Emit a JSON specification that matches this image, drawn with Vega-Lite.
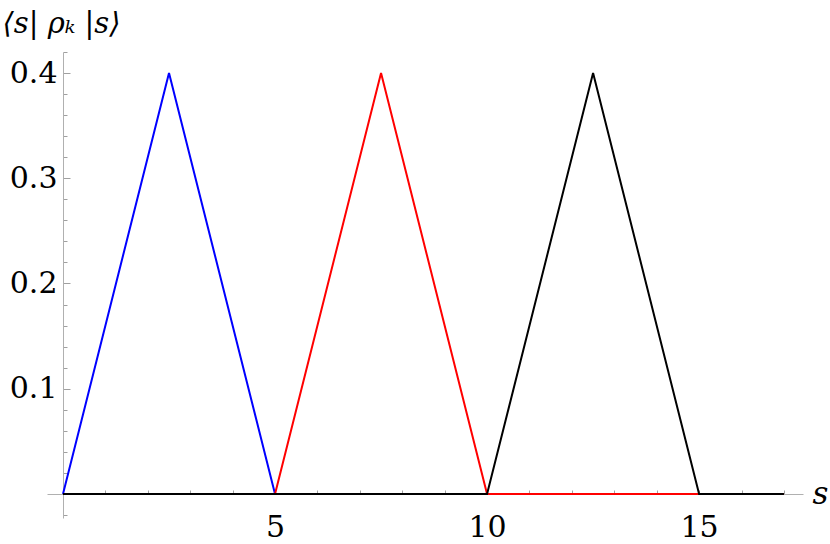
{
  "$schema": "https://vega.github.io/schema/vega-lite/v6.json",
  "width": 756,
  "height": 466,
  "autosize": {"type": "none"},
  "padding": {"left": 47, "top": 52, "right": 27, "bottom": 26},
  "background": "white",
  "config": {"view": {"stroke": null}, "font": "DejaVu Serif"},
  "data": {"values": [
    {"s": 0, "p": 0, "k": "1"}, {"s": 2.5, "p": 0.4, "k": "1"}, {"s": 5, "p": 0, "k": "1"}, {"s": 17, "p": 0, "k": "1"},
    {"s": 0, "p": 0, "k": "2"}, {"s": 5, "p": 0, "k": "2"}, {"s": 7.5, "p": 0.4, "k": "2"}, {"s": 10, "p": 0, "k": "2"}, {"s": 17, "p": 0, "k": "2"},
    {"s": 0, "p": 0, "k": "3"}, {"s": 10, "p": 0, "k": "3"}, {"s": 12.5, "p": 0.4, "k": "3"}, {"s": 15, "p": 0, "k": "3"}, {"s": 17, "p": 0, "k": "3"}
  ]},
  "mark": {"type": "line", "strokeWidth": 2, "clip": false},
  "encoding": {
    "x": {
      "field": "s", "type": "quantitative",
      "scale": {"domain": [-0.377, 17.45], "nice": false, "zero": false},
      "axis": {
        "orient": "bottom",
        "offset": -24,
        "values": [1,2,3,4,5,6,7,8,9,10,11,12,13,14,15,16,17],
        "labelExpr": "datum.value % 5 === 0 ? datum.label : ''",
        "grid": false,
        "domainColor": "#b0b0b0",
        "domainWidth": 1,
        "tickColor": "#a0a0a0",
        "tickWidth": 1,
        "tickSize": -4,
        "labelPadding": 22,
        "labelFont": "DejaVu Serif",
        "labelFontSize": 30,
        "labelColor": "black",
        "labelFlush": false,
        "labelOverlap": false,
        "title": "s",
        "titleFont": "DejaVu Serif",
        "titleFontStyle": "italic",
        "titleFontWeight": "normal",
        "titleFontSize": 31,
        "titleColor": "black",
        "titleAlign": "left",
        "titleBaseline": "middle",
        "titleAnchor": null,
        "titleX": 765,
        "titleY": 0
      }
    },
    "y": {
      "field": "p", "type": "quantitative",
      "scale": {"domain": [-0.0229, 0.42], "nice": false, "zero": false},
      "axis": {
        "orient": "left",
        "offset": -16,
        "values": [-0.02,0.02,0.04,0.06,0.08,0.1,0.12,0.14,0.16,0.18,0.2,0.22,0.24,0.26,0.28,0.3,0.32,0.34,0.36,0.38,0.4,0.42],
        "labelExpr": "(abs(datum.value*10 - round(datum.value*10)) < 0.001 && datum.value > 0) ? format(datum.value, '.1f') : ''",
        "grid": false,
        "domainColor": "#b0b0b0",
        "domainWidth": 1,
        "tickColor": "#a0a0a0",
        "tickWidth": 1,
        "tickSize": {"condition": {"test": "abs(datum.value*10 - round(datum.value*10)) < 0.001", "value": -7}, "value": -4},
        "labelPadding": 13,
        "labelFont": "DejaVu Serif",
        "labelFontSize": 30,
        "labelColor": "black",
        "labelFlush": false,
        "labelOverlap": false,
        "title": "⟨s| ρₖ |s⟩",
        "titleFont": "DejaVu Serif",
        "titleFontStyle": "italic",
        "titleFontWeight": "normal",
        "titleFontSize": 29,
        "titleColor": "black",
        "titleAngle": 0,
        "titleAlign": "left",
        "titleBaseline": "alphabetic",
        "titleAnchor": null,
        "titleX": -61,
        "titleY": -20
      }
    },
    "color": {
      "field": "k", "type": "nominal",
      "scale": {"domain": ["1", "2", "3"], "range": ["#0000ff", "#ff0000", "#000000"]},
      "legend": null
    }
  }
}
